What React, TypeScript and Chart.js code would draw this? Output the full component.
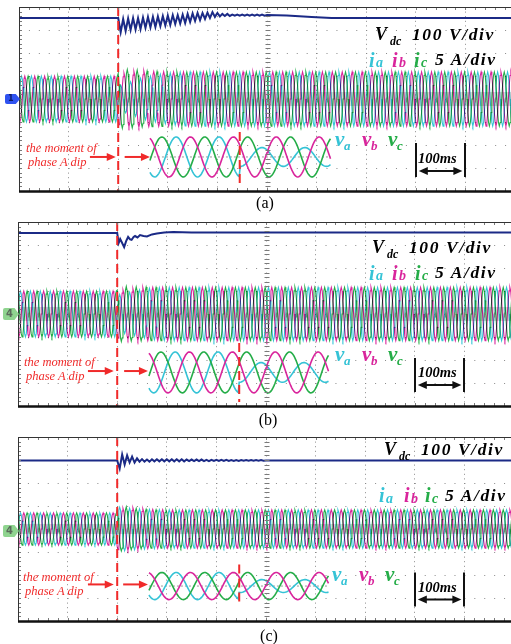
import React, { useEffect, useRef } from "react";
import { Chart, registerables } from "chart.js";

Chart.register(...registerables);

// ---------------- data (time in ms, values in oscilloscope divisions) ----------------
const SCREEN_MS = [0, 1000];
const SCREEN_DIV = [-4, 4];
const GRID_STEP_MS = 100;
const GRID_STEP_DIV = 1;
const DIP_MS = [200, 200, 200];
const CURRENT_PERIOD_MS = 20;
const RIPPLE_PERIOD_MS = 10;

// DC-link voltage Vdc (100 V/div)
const vdcLevel = [3.52, 3.52, 2.98];
const vdcTopsA = [3.52, 3.48, 3.5, 3.52, 3.52, 3.54, 3.57, 3.57, 3.59, 3.61, 3.63, 3.65, 3.65, 3.67, 3.7, 3.72, 3.74, 3.74, 3.76, 3.78, 3.74, 3.7, 3.7, 3.67, 3.67, 3.67, 3.67, 3.67, 3.67, 3.67];
const vdcTroughsA = [2.91, 2.96, 3.0, 3.02, 3.04, 3.09, 3.11, 3.13, 3.17, 3.2, 3.22, 3.26, 3.28, 3.3, 3.35, 3.39, 3.43, 3.48, 3.52, 3.57, 3.59, 3.61, 3.61, 3.62, 3.62, 3.62, 3.62, 3.62, 3.62, 3.62];
const vdcTailMsA = [500, 540, 590, 630, 1000];
const vdcTailA = [3.65, 3.63, 3.57, 3.52, 3.52];
const vdcMsB = [0, 200, 203, 206, 209, 214, 218, 222, 226, 229, 233, 236, 241, 246, 253, 260, 270, 280, 295, 313, 350, 1000];
const vdcB = [3.52, 3.52, 3.09, 3.26, 3.13, 2.91, 3.17, 3.35, 3.24, 3.22, 3.35, 3.39, 3.33, 3.43, 3.39, 3.37, 3.46, 3.5, 3.54, 3.56, 3.54, 3.54];
const vdcTopsC = [2.98, 3.24, 3.2, 3.15, 3.07, 3.04, 3.02, 3.03, 3.03, 3.03, 3.03, 3.03, 3.03, 3.03, 3.02, 3.02, 3.02, 3.02, 3.01, 3.01, 3.01, 3.01, 3.01, 3.0, 3.0, 3.0, 3.0, 3.0, 3.0, 3.0];
const vdcTroughsC = [2.63, 2.8, 2.89, 2.89, 2.93, 2.93, 2.93, 2.94, 2.94, 2.94, 2.94, 2.94, 2.94, 2.94, 2.95, 2.95, 2.95, 2.95, 2.95, 2.96, 2.96, 2.96, 2.96, 2.96, 2.96, 2.97, 2.97, 2.97, 2.97, 2.97];
const vdcTailMsC = [500, 1000];
const vdcTailC = [2.98, 2.98];

// grid currents (5 A/div): peak amplitude of every 20 ms cycle (50 cycles)
const iaAmpA = [1, 1, 1, 1, 1, 1, 1, 1, 1, 1, 0.6, 0.75, 0.9, 1.0, 1.08, 1.14, 1.17, 1.18, 1.18, 1.18, 1.18, 1.18, 1.18, 1.18, 1.18, 1.18, 1.18, 1.18, 1.18, 1.18, 1.18, 1.18, 1.18, 1.18, 1.18, 1.18, 1.18, 1.18, 1.18, 1.18, 1.18, 1.18, 1.18, 1.18, 1.18, 1.18, 1.18, 1.18, 1.18, 1.18];
const ibAmpA = [1, 1, 1, 1, 1, 1, 1, 1, 1, 1, 1.12, 1.2, 1.22, 1.2, 1.19, 1.18, 1.18, 1.18, 1.18, 1.18, 1.18, 1.18, 1.18, 1.18, 1.18, 1.18, 1.18, 1.18, 1.18, 1.18, 1.18, 1.18, 1.18, 1.18, 1.18, 1.18, 1.18, 1.18, 1.18, 1.18, 1.18, 1.18, 1.18, 1.18, 1.18, 1.18, 1.18, 1.18, 1.18, 1.18];
const icAmpA = [1, 1, 1, 1, 1, 1, 1, 1, 1, 1, 1.28, 1.26, 1.22, 1.2, 1.19, 1.18, 1.18, 1.18, 1.18, 1.18, 1.18, 1.18, 1.18, 1.18, 1.18, 1.18, 1.18, 1.18, 1.18, 1.18, 1.18, 1.18, 1.18, 1.18, 1.18, 1.18, 1.18, 1.18, 1.18, 1.18, 1.18, 1.18, 1.18, 1.18, 1.18, 1.18, 1.18, 1.18, 1.18, 1.18];
const iaAmpB = [1, 1, 1, 1, 1, 1, 1, 1, 1, 1, 0.85, 0.95, 1.05, 1.12, 1.15, 1.16, 1.16, 1.16, 1.16, 1.16, 1.16, 1.16, 1.16, 1.16, 1.16, 1.16, 1.16, 1.16, 1.16, 1.16, 1.16, 1.16, 1.16, 1.16, 1.16, 1.16, 1.16, 1.16, 1.16, 1.16, 1.16, 1.16, 1.16, 1.16, 1.16, 1.16, 1.16, 1.16, 1.16, 1.16];
const ibAmpB = [1, 1, 1, 1, 1, 1, 1, 1, 1, 1, 1.05, 1.1, 1.15, 1.16, 1.16, 1.16, 1.16, 1.16, 1.16, 1.16, 1.16, 1.16, 1.16, 1.16, 1.16, 1.16, 1.16, 1.16, 1.16, 1.16, 1.16, 1.16, 1.16, 1.16, 1.16, 1.16, 1.16, 1.16, 1.16, 1.16, 1.16, 1.16, 1.16, 1.16, 1.16, 1.16, 1.16, 1.16, 1.16, 1.16];
const icAmpB = [1, 1, 1, 1, 1, 1, 1, 1, 1, 1, 1.2, 1.18, 1.17, 1.16, 1.16, 1.16, 1.16, 1.16, 1.16, 1.16, 1.16, 1.16, 1.16, 1.16, 1.16, 1.16, 1.16, 1.16, 1.16, 1.16, 1.16, 1.16, 1.16, 1.16, 1.16, 1.16, 1.16, 1.16, 1.16, 1.16, 1.16, 1.16, 1.16, 1.16, 1.16, 1.16, 1.16, 1.16, 1.16, 1.16];
const iaAmpC = [0.7, 0.7, 0.7, 0.7, 0.7, 0.7, 0.7, 0.7, 0.7, 0.7, 0.95, 0.9, 0.87, 0.85, 0.84, 0.83, 0.83, 0.83, 0.83, 0.83, 0.83, 0.83, 0.83, 0.83, 0.83, 0.83, 0.83, 0.83, 0.83, 0.83, 0.83, 0.83, 0.83, 0.83, 0.83, 0.83, 0.83, 0.83, 0.83, 0.83, 0.83, 0.83, 0.83, 0.83, 0.83, 0.83, 0.83, 0.83, 0.83, 0.83];
const ibAmpC = [0.7, 0.7, 0.7, 0.7, 0.7, 0.7, 0.7, 0.7, 0.7, 0.7, 0.9, 0.92, 0.88, 0.85, 0.84, 0.83, 0.83, 0.83, 0.83, 0.83, 0.83, 0.83, 0.83, 0.83, 0.83, 0.83, 0.83, 0.83, 0.83, 0.83, 0.83, 0.83, 0.83, 0.83, 0.83, 0.83, 0.83, 0.83, 0.83, 0.83, 0.83, 0.83, 0.83, 0.83, 0.83, 0.83, 0.83, 0.83, 0.83, 0.83];
const icAmpC = [0.7, 0.7, 0.7, 0.7, 0.7, 0.7, 0.7, 0.7, 0.7, 0.7, 0.96, 0.9, 0.86, 0.84, 0.83, 0.83, 0.83, 0.83, 0.83, 0.83, 0.83, 0.83, 0.83, 0.83, 0.83, 0.83, 0.83, 0.83, 0.83, 0.83, 0.83, 0.83, 0.83, 0.83, 0.83, 0.83, 0.83, 0.83, 0.83, 0.83, 0.83, 0.83, 0.83, 0.83, 0.83, 0.83, 0.83, 0.83, 0.83, 0.83];
const CURRENT_PHASE_DEG = [0, 120, 240];
const noiseBand = [0.3, 0.3, 0.22];

// zoomed grid voltages va, vb, vc (inset)
const insetStartMs = [264, 264, 264];
const insetEndMs = [628, 626, 626];
const insetPeriodMs = [86.5, 86.5, 86.5];
const insetVcPeakMs = [288, 288, 290];
const insetCenter = [-2.52, -2.54, -2.48];
const insetAmp = [0.87, 0.89, 0.59];
const insetVaAfter = [0.41, 0.43, 0.28];
const insetDipMs = [445, 446, 446];
const insetDipTop = [-1.43, -1.26, -1.54];
const insetDipBottom = [-3.87, -3.83, -3.28];

// annotations
const arrowY = [-2.52, -2.48, -2.41];
const arrow1Ms = [[143, 195], [141, 193], [141, 193]];
const arrow2Ms = [[213, 264], [214, 262], [212, 262]];
const scaleBarMs = [800, 900];
const scaleBarTop = [-1.91, -1.91, -1.89];
const scaleBarBottom = [-3.39, -3.39, -3.37];
const scaleArrowY = [-3.13, -3.09, -3.07];

const CURRENTS = [
  [iaAmpA, ibAmpA, icAmpA],
  [iaAmpB, ibAmpB, icAmpB],
  [iaAmpC, ibAmpC, icAmpC],
];
const PANEL_CAPTIONS = ["(a)", "(b)", "(c)"];

// ---------------- colours ----------------
const C_VDC = "#1b2a86";
const C_A = "#35c3d6";
const C_B = "#d9259c";
const C_C = "#25ad48";
const C_RED = "#f02a2a";
const SERIF = "'Liberation Serif','Times New Roman',Times,serif";

// ---------------- series builders ----------------
function rippleVdc(level: number, tops: number[], troughs: number[], tailMs: number[], tail: number[], dip: number) {
  const pts: any[] = [{ x: SCREEN_MS[0], y: level }, { x: dip, y: level }];
  for (let k = 0; k < tops.length; k++) {
    pts.push({ x: dip + k * RIPPLE_PERIOD_MS, y: tops[k] });
    pts.push({ x: dip + k * RIPPLE_PERIOD_MS + RIPPLE_PERIOD_MS / 2, y: troughs[k] });
  }
  tailMs.forEach((t, i) => pts.push({ x: t, y: tail[i] }));
  return pts;
}

function vdcSeries(i: number) {
  if (i === 0) return rippleVdc(vdcLevel[0], vdcTopsA, vdcTroughsA, vdcTailMsA, vdcTailA, DIP_MS[0]);
  if (i === 1) return vdcMsB.map((t, k) => ({ x: t, y: vdcB[k] }));
  return rippleVdc(vdcLevel[2], vdcTopsC, vdcTroughsC, vdcTailMsC, vdcTailC, DIP_MS[2]);
}

function currentSeries(amps: number[], phaseDeg: number) {
  const pts: any[] = [];
  const n = 12;
  for (let k = 0; k < amps.length; k++) {
    for (let s = 0; s < n; s++) {
      const t = (k + s / n) * CURRENT_PERIOD_MS;
      pts.push({ x: t, y: amps[k] * Math.sin((2 * Math.PI * s) / n - (phaseDeg * Math.PI) / 180) });
    }
  }
  return pts;
}

function insetSeries(i: number, lagFrac: number, ampAfter: number) {
  const pts: any[] = [];
  const peak = insetVcPeakMs[i] + lagFrac * insetPeriodMs[i];
  for (let t = insetStartMs[i]; t <= insetEndMs[i]; t += 2) {
    const amp = t < insetDipMs[i] ? insetAmp[i] : ampAfter;
    pts.push({ x: t, y: insetCenter[i] + amp * Math.cos((2 * Math.PI * (t - peak)) / insetPeriodMs[i]) });
  }
  return pts;
}

function lineDs(data: any[], color: string, width: number, extra: any = {}) {
  return { data, borderColor: color, borderWidth: width, pointRadius: 0, tension: 0, fill: false, ...extra };
}

// ---------------- overlay plugin (frame, minor ticks, arrows, time scale bar) ----------------
const scopeOverlay = {
  id: "scopeOverlay",
  beforeDatasetDraw(chart: any, args: any) {
    const ds = chart.data.datasets[args.index];
    if (ds && ds.multiply) {
      chart.ctx.save();
      chart.ctx.globalCompositeOperation = "multiply";
    }
  },
  afterDatasetDraw(chart: any, args: any) {
    const ds = chart.data.datasets[args.index];
    if (ds && ds.multiply) chart.ctx.restore();
  },
  afterDraw(chart: any) {
    const i = chart.options.plugins.scopeOverlay.panel;
    const { ctx, chartArea: a, scales } = chart;
    const X = (v: number) => scales.x.getPixelForValue(v);
    const Y = (v: number) => scales.y.getPixelForValue(v);
    ctx.save();
    // minor ticks
    ctx.strokeStyle = "#7a7a7a";
    ctx.lineWidth = 1;
    ctx.beginPath();
    const cx = Math.round(X((SCREEN_MS[0] + SCREEN_MS[1]) / 2)) + 0.5;
    const cy = Math.round(Y(0)) + 0.5;
    for (let t = SCREEN_MS[0]; t <= SCREEN_MS[1]; t += GRID_STEP_MS / 5) {
      const px = Math.round(X(t)) + 0.5;
      ctx.moveTo(px, a.top);
      ctx.lineTo(px, a.top + 3);
      ctx.moveTo(px, a.bottom);
      ctx.lineTo(px, a.bottom - 3);
      ctx.moveTo(px, cy - 2);
      ctx.lineTo(px, cy + 3);
    }
    for (let v = SCREEN_DIV[0]; v <= SCREEN_DIV[1] + 1e-6; v += GRID_STEP_DIV / 5) {
      const py = Math.round(Y(v)) + 0.5;
      ctx.moveTo(a.left, py);
      ctx.lineTo(a.left + 3, py);
      ctx.moveTo(cx - 2, py);
      ctx.lineTo(cx + 3, py);
    }
    ctx.stroke();
    // frame
    ctx.strokeStyle = "#333";
    ctx.lineWidth = 1;
    ctx.beginPath();
    ctx.moveTo(a.left + 0.5, a.top);
    ctx.lineTo(a.left + 0.5, a.bottom);
    ctx.moveTo(a.left, a.top + 0.5);
    ctx.lineTo(a.right, a.top + 0.5);
    ctx.stroke();
    ctx.strokeStyle = "#111";
    ctx.lineWidth = 2.5;
    ctx.beginPath();
    ctx.moveTo(a.left, a.bottom + 0.5);
    ctx.lineTo(a.right, a.bottom + 0.5);
    ctx.stroke();
    // arrows
    const arrow = (x1: number, x2: number, y: number, color: string, both: boolean) => {
      ctx.strokeStyle = color;
      ctx.fillStyle = color;
      ctx.lineWidth = 2;
      ctx.beginPath();
      ctx.moveTo(both ? x1 + 6 : x1, y);
      ctx.lineTo(x2 - 6, y);
      ctx.stroke();
      const head = (tip: number, dir: number) => {
        ctx.beginPath();
        ctx.moveTo(tip, y);
        ctx.lineTo(tip - dir * 9, y - 4);
        ctx.lineTo(tip - dir * 9, y + 4);
        ctx.closePath();
        ctx.fill();
      };
      head(x2, 1);
      if (both) head(x1, -1);
    };
    const ay = Y(arrowY[i]);
    arrow(X(arrow1Ms[i][0]), X(arrow1Ms[i][1]), ay, C_RED, false);
    arrow(X(arrow2Ms[i][0]), X(arrow2Ms[i][1]), ay, C_RED, false);
    // time scale bar
    ctx.strokeStyle = "#111";
    ctx.lineWidth = 2;
    ctx.beginPath();
    scaleBarMs.forEach((t) => {
      const px = Math.round(X(t));
      ctx.moveTo(px, Y(scaleBarTop[i]));
      ctx.lineTo(px, Y(scaleBarBottom[i]));
    });
    ctx.stroke();
    arrow(X(scaleBarMs[0]) + 3, X(scaleBarMs[1]) - 3, Y(scaleArrowY[i]), "#111", true);
    ctx.restore();
  },
};

function buildConfig(i: number, pad: any) {
  const [ia, ib, ic] = CURRENTS[i];
  const datasets = [
    lineDs([{ x: DIP_MS[i], y: SCREEN_DIV[1] }, { x: DIP_MS[i], y: SCREEN_DIV[0] }], C_RED, 2, { borderDash: [9, 5] }),
    lineDs([{ x: insetDipMs[i], y: insetDipTop[i] }, { x: insetDipMs[i], y: insetDipBottom[i] }], C_RED, 2, { borderDash: [9, 5] }),
    lineDs(vdcSeries(i), C_VDC, 2),
    lineDs(insetSeries(i, 2 / 3, insetAmp[i]), C_B, 1.6),
    lineDs(insetSeries(i, 0, insetAmp[i]), C_C, 1.6),
    lineDs(insetSeries(i, 1 / 3, insetVaAfter[i]), C_A, 1.6),
    lineDs(currentSeries(ib, CURRENT_PHASE_DEG[1]), C_B, 1.1, { multiply: true }),
    lineDs(currentSeries(ic, CURRENT_PHASE_DEG[2]), C_C, 1.1, { multiply: true }),
    lineDs(currentSeries(ia, CURRENT_PHASE_DEG[0]), C_A, 1.1, { multiply: true }),
    lineDs([{ x: insetStartMs[i], y: insetCenter[i] }, { x: insetEndMs[i], y: insetCenter[i] }], "#9a9a9a", 1, { borderDash: [2, 2] }),
    lineDs([{ x: SCREEN_MS[0], y: noiseBand[i] }, { x: SCREEN_MS[1], y: noiseBand[i] }], "rgba(0,0,0,0)", 0, {
      fill: { value: -noiseBand[i] },
      backgroundColor: "rgba(150,150,150,0.35)",
    }),
  ];
  return {
    type: "line",
    data: { datasets },
    options: {
      animation: false,
      responsive: false,
      maintainAspectRatio: false,
      events: [],
      layout: { padding: pad },
      plugins: { legend: { display: false }, tooltip: { enabled: false }, scopeOverlay: { panel: i } },
      scales: {
        x: {
          type: "linear",
          min: SCREEN_MS[0],
          max: SCREEN_MS[1],
          ticks: { display: false, stepSize: GRID_STEP_MS },
          grid: { color: "#8a8a8a", lineWidth: 1, drawTicks: false },
          border: { display: false, dash: [1, 3.6] },
        },
        y: {
          type: "linear",
          min: SCREEN_DIV[0],
          max: SCREEN_DIV[1],
          ticks: { display: false, stepSize: GRID_STEP_DIV },
          grid: { color: "#8a8a8a", lineWidth: 1, drawTicks: false },
          border: { display: false, dash: [1, 8.92] },
        },
      },
    },
    plugins: [scopeOverlay],
  } as any;
}

function ScopePanel({ i, top, height, pad }: { i: number; top: number; height: number; pad: any }) {
  const ref = useRef<HTMLCanvasElement | null>(null);
  useEffect(() => {
    const chart = new Chart(ref.current as HTMLCanvasElement, buildConfig(i, pad));
    return () => chart.destroy();
  }, []);
  return <canvas ref={ref} width={530} height={height} style={{ position: "absolute", left: 0, top, width: 530, height }} />;
}

type LP = { x: number; b: number; s: number; t: string; c?: string; it?: boolean; bd?: boolean; ls?: number; center?: boolean };
function L({ x, b, s, t, c = "#000", it = true, bd = true, ls = 0, center = false }: LP) {
  return (
    <div
      style={{
        position: "absolute",
        left: x,
        top: b - 0.8375 * s,
        fontFamily: SERIF,
        fontSize: s,
        lineHeight: `${s}px`,
        fontStyle: it ? "italic" : "normal",
        fontWeight: bd ? 700 : 400,
        color: c,
        letterSpacing: ls,
        whiteSpace: "nowrap",
        transform: center ? "translateX(-50%)" : undefined,
      }}
    >
      {t}
    </div>
  );
}

function Marker({ x, y, w, h, bg, fg, t }: any) {
  return (
    <div
      style={{
        position: "absolute",
        left: x,
        top: y,
        width: w,
        height: h,
        background: bg,
        color: fg,
        clipPath: "polygon(0 0, 72% 0, 100% 50%, 72% 100%, 0 100%)",
        borderRadius: 2,
        fontFamily: "'DejaVu Sans',sans-serif",
        fontSize: h - 2,
        lineHeight: `${h}px`,
        fontWeight: 700,
        paddingLeft: 3,
        boxSizing: "border-box",
      }}
    >
      {t}
    </div>
  );
}

type PanelText = { vx: number; vb: number; ix: number[]; ib: number; aDivX: number; vpx: number[]; vpb: number; msb: number; redX: number; redB: number; cap: number; capB: number };

const TEXT: PanelText[] = [
  { vx: 375, vb: 40.5, ix: [369, 392, 414], ib: 66.5, aDivX: 435, vpx: [335, 362, 388], vpb: 147, msb: 163, redX: 26, redB: 152.5, cap: 265, capB: 208 },
  { vx: 372, vb: 253.5, ix: [369, 392, 415], ib: 279.5, aDivX: 435, vpx: [335, 362, 388], vpb: 362, msb: 377, redX: 24, redB: 366, cap: 268, capB: 425 },
  { vx: 384, vb: 455.5, ix: [379, 404, 425], ib: 502, aDivX: 445, vpx: [332, 359, 385], vpb: 582, msb: 592, redX: 23, redB: 581, cap: 269, capB: 641 },
];

function PanelLabels({ p, i }: { p: PanelText; i: number }) {
  const cols = [C_A, C_B, C_C];
  const subs = ["a", "b", "c"];
  return (
    <>
      <L x={p.vx} b={p.vb} s={18} t="V" />
      <L x={p.vx + 15} b={p.vb + 4.5} s={12} t="dc" />
      <L x={p.vx + 37} b={p.vb} s={17.5} t="100 V/div" ls={1.6} />
      {p.ix.map((x, k) => (
        <React.Fragment key={"i" + k}>
          <L x={x} b={p.ib} s={20} t="i" c={cols[k]} />
          <L x={x + 7} b={p.ib + 1.5} s={14} t={subs[k]} c={cols[k]} />
        </React.Fragment>
      ))}
      <L x={p.aDivX} b={p.ib - 0.5} s={17.5} t="5 A/div" ls={1.6} />
      {p.vpx.map((x, k) => (
        <React.Fragment key={"v" + k}>
          <L x={x} b={p.vpb} s={21} t="v" c={cols[k]} />
          <L x={x + 9} b={p.vpb + 3} s={13} t={subs[k]} c={cols[k]} />
        </React.Fragment>
      ))}
      <L x={418} b={p.msb} s={14.5} t="100ms" />
      <L x={p.redX} b={p.redB} s={12.5} t="the moment of" c={C_RED} bd={false} />
      <L x={p.redX + 2} b={p.redB + 14} s={12.5} t="phase A dip" c={C_RED} bd={false} />
      <L x={p.cap} b={p.capB} s={16} t={PANEL_CAPTIONS[i]} it={false} bd={false} center />
    </>
  );
}

export default function App() {
  return (
    <div style={{ position: "absolute", left: 0, top: 0, width: 511, height: 644, overflow: "hidden", background: "#fff" }}>
      <ScopePanel i={0} top={0} height={200} pad={{ left: 19, right: 15, top: 7, bottom: 9 }} />
      <ScopePanel i={1} top={212} height={204} pad={{ left: 18, right: 16, top: 10, bottom: 10 }} />
      <ScopePanel i={2} top={428} height={204} pad={{ left: 18, right: 16, top: 9, bottom: 11 }} />
      <Marker x={5} y={94} w={15} h={10} bg="#2f52f0" fg="#0b1a66" t="1" />
      <Marker x={3} y={308} w={16} h={12} bg="#8fd48f" fg="#5a6a5a" t="4" />
      <Marker x={3} y={525} w={16} h={12} bg="#8fd48f" fg="#5a6a5a" t="4" />
      {TEXT.map((p, i) => (
        <PanelLabels key={i} p={p} i={i} />
      ))}
    </div>
  );
}
